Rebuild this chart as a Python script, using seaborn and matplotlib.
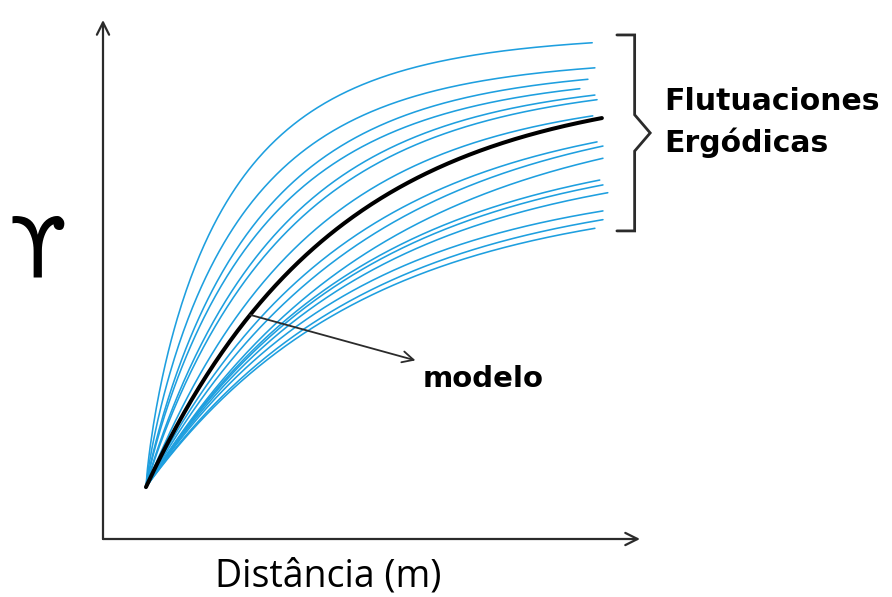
import numpy as np
import pandas as pd
import matplotlib
matplotlib.use("Agg")
import matplotlib.pyplot as plt
import seaborn as sns

# Experimental variogram realisations (stable-model fits): sill, range, shape, last lag
sills = [8.74, 8.28, 8.11, 8.00, 7.90, 7.87, 7.63, 7.40, 7.46, 7.37, 6.73, 6.61, 6.42, 5.97, 5.85, 5.69]
ranges = [6.0, 6.5, 7.0, 7.5, 8.0, 8.5, 9.0, 11.0, 12.0, 13.0, 12.0, 12.0, 12.0, 11.5, 12.0, 12.0]
shapes = [0.80, 0.85, 0.90, 0.90, 0.95, 0.95, 1.00, 1.00, 1.00, 1.00, 1.00, 1.00, 1.00, 1.00, 1.00, 1.00]
max_lags = [8.31, 8.36, 8.23, 8.08, 8.36, 8.40, 8.32, 8.40, 8.51, 8.51, 8.45, 8.51, 8.60, 8.51, 8.51, 8.36]

# Theoretical (exponential) model
model_sill = 7.80
model_range = 10.5
model_max_lag = 8.49

nugget = 1.0

BLUE = "#1e9fdf"
INK = "#2b2b2b"


def variogram(h, sill, rng, shape=1.0):
    h = np.asarray(h, dtype=float)
    return nugget + sill * (1.0 - np.exp(-3.0 * (h / rng) ** shape))


frames = []
for i, (c, a, p, hmax) in enumerate(zip(sills, ranges, shapes, max_lags)):
    h = np.linspace(0, hmax, 300)
    frames.append(pd.DataFrame({"lag": h, "gamma": variogram(h, c, a, p), "real": i}))
df = pd.concat(frames, ignore_index=True)

h_model = np.linspace(0, model_max_lag, 300)
df_model = pd.DataFrame({"lag": h_model,
                         "gamma": variogram(h_model, model_sill, model_range)})

sns.set_theme(style="white")
plt.rcParams["font.family"] = ["DejaVu Sans"]

fig = plt.figure(figsize=(8.92, 5.97), dpi=100)
ax = fig.add_axes([103 / 892, 58 / 597, 537 / 892, 519 / 597])

sns.lineplot(data=df, x="lag", y="gamma", units="real", estimator=None,
             color=BLUE, lw=1.15, ax=ax, legend=False)
sns.lineplot(data=df_model, x="lag", y="gamma", color="black", lw=2.9, ax=ax)

ax.set_xlim(-0.80, 9.20)
ax.set_ylim(0, 10)
ax.set_xticks([])
ax.set_yticks([])
for s in ax.spines.values():
    s.set_visible(False)

# Axes drawn as arrows
arrow = dict(arrowstyle="->", lw=1.6, color=INK, mutation_scale=22, shrinkA=0, shrinkB=0)
ax.annotate("", xy=(1, 0), xytext=(0, 0), xycoords="axes fraction", arrowprops=arrow)
ax.annotate("", xy=(0, 1), xytext=(0, 0), xycoords="axes fraction", arrowprops=arrow)

ax.set_xlabel("Distância (m)", fontsize=27, family="Open Sans", color="black")
ax.xaxis.label.set_va("baseline")
ax.xaxis.set_label_coords((328 - 103) / 537, (539 - 586) / 519)

ax.set_ylabel("ϒ", fontsize=60, rotation=0, color="black")
ax.yaxis.label.set_va("center")
ax.yaxis.label.set_ha("center")
ax.yaxis.set_label_coords((38 - 103) / 537, (539 - 253) / 519)

# Bracket spanning the end values of the realisations
ends = [float(variogram(hm, c, a, p)) for c, a, p, hm in zip(sills, ranges, shapes, max_lags)]
top = max(ends) + 0.15
bot = min(ends) - 0.05
mid = (top + bot) / 2
xb, xl, xt = 9.10, 8.77, 9.39
ax.plot([xl, xb, xb, xt, xb, xb, xl],
        [top, top, mid + 0.35, mid, mid - 0.35, bot, bot],
        color=INK, lw=2.0, clip_on=False, solid_joinstyle="miter")
ax.text(9.66, mid + 0.2, "Flutuaciones\nErgódicas", fontsize=21.5, fontweight="bold",
        ha="left", va="center", linespacing=1.45, color="black", clip_on=False)

# Pointer to the model curve
h_ptr = 1.94
ax.annotate("modelo", xy=(h_ptr, float(variogram(h_ptr, model_sill, model_range))),
            xytext=(5.16, 3.08), fontsize=21, fontweight="bold", ha="left", va="center",
            color="black",
            arrowprops=dict(arrowstyle="<-", lw=1.3, color=INK, mutation_scale=20,
                            shrinkA=4, shrinkB=0))

fig.savefig("out.png", dpi=100, facecolor="white")
